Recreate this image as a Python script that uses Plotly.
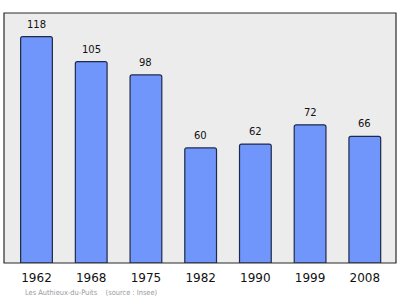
import plotly.graph_objects as go

years = ["1962", "1968", "1975", "1982", "1990", "1999", "2008"]
population = [118, 105, 98, 60, 62, 72, 66]
commune = "Les Authieux-du-Puits"
source = "(source : Insee)"

positions = list(range(len(years)))

fig = go.Figure(
    go.Bar(
        x=positions,
        y=population,
        width=0.58,
        marker=dict(color="#7096fb", line=dict(color="#1f2a48", width=1.2)),
        hoverinfo="skip",
    )
)

# value labels above each bar
value_labels = [
    dict(
        x=p, y=v, text=str(v), xref="x", yref="y",
        yanchor="bottom", yshift=5, showarrow=False,
        font=dict(family="DejaVu Sans", size=10, color="#111111"),
    )
    for p, v in zip(positions, population)
]

fig.update_layout(
    width=400,
    height=299,
    margin=dict(l=4, r=4, t=13, b=36),
    paper_bgcolor="white",
    plot_bgcolor="#ececec",
    showlegend=False,
    barcornerradius=2,
    xaxis=dict(
        range=[-0.594, 6.57],
        tickmode="array",
        tickvals=positions,
        ticktext=years,
        showgrid=False,
        zeroline=False,
        ticks="",
        ticklabelstandoff=6,
        tickfont=dict(family="DejaVu Sans", size=12, color="#111111"),
        fixedrange=True,
    ),
    yaxis=dict(
        range=[0, 130.3],
        showgrid=False,
        zeroline=False,
        showticklabels=False,
        ticks="",
        fixedrange=True,
    ),
    shapes=[
        dict(
            type="rect", xref="paper", yref="paper",
            x0=0, x1=1, y0=0, y1=1,
            line=dict(color="#2a2a2a", width=1.2),
            layer="above",
        )
    ],
    annotations=value_labels + [
        dict(
            text=f"{commune}&nbsp;&nbsp;&nbsp;&nbsp;{source}",
            xref="paper", yref="paper",
            x=(23 - 4) / 392, y=-(293 - 263.3) / 250.3,
            xanchor="left", yanchor="middle",
            showarrow=False,
            font=dict(family="DejaVu Sans Condensed, DejaVu Sans", size=7.4, color="#9a9a9a"),
        )
    ],
)

fig.write_html("out.html")
